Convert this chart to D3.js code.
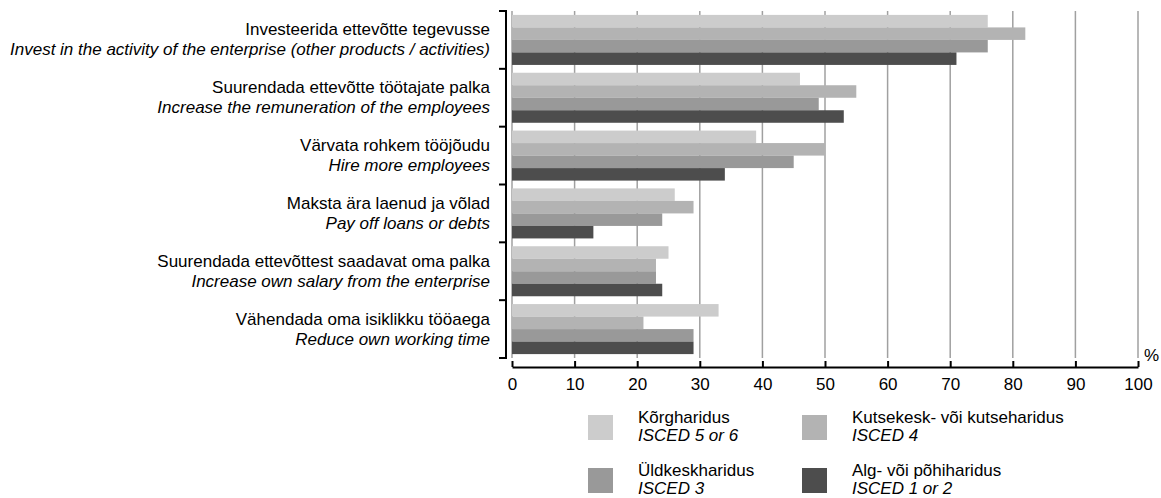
<!DOCTYPE html>
<html>
<head>
<meta charset="utf-8">
<script src="https://cdn.jsdelivr.net/npm/d3@7"></script>
<style>
    body { margin: 0; background: #fff; }
    text { font-family: "Liberation Sans", Arial, sans-serif; font-size: 17px; fill: #000; }
    .it { font-style: italic; }
</style>
</head>
<body>
<div id="chart"></div>
<script>
// categories (Estonian + English)
let cat_et = ["Investeerida ettevõtte tegevusse", "Suurendada ettevõtte töötajate palka", "Värvata rohkem tööjõudu",
    "Maksta ära laenud ja võlad", "Suurendada ettevõttest saadavat oma palka", "Vähendada oma isiklikku tööaega"];
let cat_en = ["Invest in the activity of the enterprise (other products / activities)", "Increase the remuneration of the employees",
    "Hire more employees", "Pay off loans or debts", "Increase own salary from the enterprise", "Reduce own working time"];

// series
let series_et = ["Kõrgharidus", "Kutsekesk- või kutseharidus", "Üldkeskharidus", "Alg- või põhiharidus"];
let series_en = ["ISCED 5 or 6", "ISCED 4", "ISCED 3", "ISCED 1 or 2"];
let colors = ["#cccccc", "#b3b3b3", "#999999", "#4d4d4d"];

let isced56 = [76, 46, 39, 26, 25, 33];
let isced4 = [82, 55, 50, 29, 23, 21];
let isced3 = [76, 49, 45, 24, 23, 29];
let isced12 = [71, 53, 34, 13, 24, 29];
let values = [isced56, isced4, isced3, isced12];

let x_ticks = [0, 10, 20, 30, 40, 50, 60, 70, 80, 90, 100];

let svg = d3.select("#chart").append("svg")
    .attr("width", 1161)
    .attr("height", 498);

let x = d3.scaleLinear().domain([0, 100]).range([512, 1138]);
let y = d3.scaleBand().domain(d3.range(cat_et.length)).range([11, 358])
    .paddingInner(0.135).paddingOuter(0.0675);
let ySub = d3.scaleBand().domain(d3.range(series_et.length)).range([0, y.bandwidth()]);

// gridlines
svg.append("g").selectAll("line")
    .data(x_ticks)
    .enter().append("line")
    .attr("x1", d => x(d)).attr("x2", d => x(d))
    .attr("y1", 11).attr("y2", 358)
    .attr("stroke", "#a0a0a0")
    .attr("stroke-width", 1.5);

// bars
let groups = svg.append("g").selectAll("g")
    .data(d3.range(cat_et.length))
    .enter().append("g")
    .attr("transform", i => "translate(0," + y(i) + ")");

groups.selectAll("rect")
    .data(i => values.map((s, j) => ({ s: j, v: s[i] })))
    .enter().append("rect")
    .attr("x", x(0))
    .attr("y", d => ySub(d.s))
    .attr("width", d => x(d.v) - x(0))
    .attr("height", ySub.bandwidth())
    .attr("fill", d => colors[d.s]);

// y axis bracket
let bounds = d3.range(cat_et.length + 1).map(i => 11 + i * (347 / cat_et.length));
svg.append("line")
    .attr("x1", 506).attr("x2", 506).attr("y1", 11).attr("y2", 358)
    .attr("stroke", "#000").attr("stroke-width", 2);
svg.append("g").selectAll("line")
    .data(bounds)
    .enter().append("line")
    .attr("x1", 499).attr("x2", 507)
    .attr("y1", d => d).attr("y2", d => d)
    .attr("stroke", "#000").attr("stroke-width", 2);

// category labels
let labels = svg.append("g").selectAll("g")
    .data(d3.range(cat_et.length))
    .enter().append("g");
labels.append("text")
    .attr("x", 490)
    .attr("y", i => y(i) + y.bandwidth() / 2 - 10)
    .attr("text-anchor", "end")
    .attr("dominant-baseline", "central")
    .text(i => cat_et[i]);
labels.append("text")
    .attr("class", "it")
    .attr("x", 490)
    .attr("y", i => y(i) + y.bandwidth() / 2 + 10)
    .attr("text-anchor", "end")
    .attr("dominant-baseline", "central")
    .text(i => cat_en[i]);

// x axis
let x_axis = d3.axisBottom(x).tickValues(x_ticks).tickSizeInner(-6).tickSizeOuter(0).tickPadding(11);
let gx = svg.append("g")
    .attr("transform", "translate(0,367)")
    .call(x_axis);
gx.select(".domain").attr("stroke", "#000").attr("stroke-width", 2);
gx.selectAll(".tick line").attr("stroke", "#000").attr("stroke-width", 2);
gx.selectAll(".tick text").attr("font-size", 17).attr("font-family", "Liberation Sans, Arial, sans-serif").attr("fill", "#000");

svg.append("text")
    .attr("x", 1144)
    .attr("y", 355)
    .attr("dominant-baseline", "central")
    .text("%");

// legend
let leg_x = [588, 802];
let leg_y = [415, 468];
let leg = svg.append("g").selectAll("g")
    .data(d3.range(series_et.length))
    .enter().append("g")
    .attr("transform", i => "translate(" + leg_x[i % 2] + "," + leg_y[Math.floor(i / 2)] + ")");
leg.append("rect")
    .attr("width", 25).attr("height", 25)
    .attr("fill", i => colors[i]);
leg.append("text")
    .attr("x", 50).attr("y", 2)
    .attr("dominant-baseline", "central")
    .text(i => series_et[i]);
leg.append("text")
    .attr("class", "it")
    .attr("x", 50).attr("y", 20)
    .attr("dominant-baseline", "central")
    .text(i => series_en[i]);
</script>
</body>
</html>
